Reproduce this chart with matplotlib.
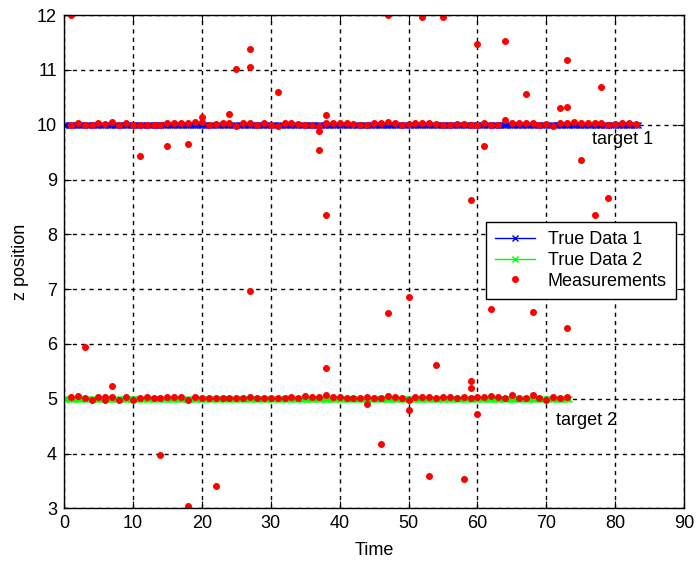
import numpy as np
import matplotlib
matplotlib.use("Agg")
import matplotlib.pyplot as plt

plt.rcParams['font.family'] = ['Liberation Sans', 'DejaVu Sans']

# true target positions (constant tracks)
true_z1 = 10.0
true_z2 = 5.0
true_end1 = 83.5
true_end2 = 73.5

# measurements close to target 1, t = 1..83
near_z1 = [10.00, 10.03, 10.00, 10.00, 10.03, 10.01, 10.05, 10.00, 10.03, 10.00,
           10.00, 10.00, 10.00, 10.00, 10.03, 10.03, 10.03, 10.03, 10.06, 10.05,
           10.00, 10.01, 10.03, 10.03, 9.98, 10.03, 10.03, 10.00, 10.03, 10.00,
           9.98, 10.03, 10.03, 10.02, 10.00, 10.00, 9.98, 10.03, 10.03, 10.03,
           10.03, 10.02, 9.99, 10.00, 10.03, 10.03, 10.06, 10.03, 10.00, 10.02,
           10.03, 10.03, 10.03, 10.02, 10.00, 10.00, 10.02, 10.02, 10.00, 10.00,
           10.03, 10.00, 10.00, 10.09, 10.03, 10.03, 10.03, 10.03, 10.00, 10.02,
           9.98, 10.03, 10.03, 10.06, 10.03, 10.03, 10.03, 10.03, 9.99, 10.02,
           10.03, 10.03, 10.02]

# measurements close to target 2, t = 1..73
near_z2 = [5.04, 5.06, 5.01, 4.98, 5.04, 5.03, 5.04, 4.98, 5.04, 4.98,
           5.01, 5.04, 5.01, 5.01, 5.04, 5.04, 5.04, 4.98, 5.04, 5.01,
           5.01, 5.01, 5.01, 5.01, 5.01, 5.01, 5.04, 5.01, 5.01, 5.01,
           5.01, 5.01, 5.04, 5.01, 5.06, 5.04, 5.04, 5.07, 5.03, 5.03,
           5.01, 5.01, 5.01, 5.03, 5.01, 5.01, 5.05, 5.04, 5.01, 4.98,
           5.03, 5.04, 5.04, 5.02, 5.04, 5.04, 5.01, 5.04, 5.01, 5.04,
           5.04, 5.05, 5.04, 5.01, 5.07, 5.02, 5.01, 5.07, 5.02, 4.97,
           5.04, 5.02, 5.04]

# clutter / outlying measurements
clutter_t = [1, 11, 15, 18, 20, 24, 25, 27, 27, 31, 37, 37, 38, 38, 47, 52, 55, 60,
             64, 73, 67, 78, 72, 73, 61, 75, 59, 79, 77,
             27, 3, 7, 38, 14, 46, 44, 47, 50, 62, 68, 73, 54, 59, 59, 50, 60,
             18, 22, 53, 58, 6]
clutter_z = [12.0, 9.43, 9.61, 9.65, 10.15, 10.19, 11.01, 11.38, 11.06, 10.59, 9.88, 9.54,
             10.17, 8.35, 12.0, 11.96, 11.96, 11.48, 11.53, 11.19, 10.56, 10.69, 10.30,
             10.32, 9.61, 9.35, 8.62, 8.67, 8.36,
             6.97, 5.95, 5.24, 5.56, 3.98, 4.17, 4.90, 6.56, 6.85, 6.63, 6.58, 6.29,
             5.61, 5.32, 5.19, 4.79, 4.72, 3.04, 3.40, 3.59, 3.54, 4.98]

x_ticks = list(range(0, 91, 10))
y_ticks = list(range(3, 13))

t1 = np.arange(0, true_end1 + 0.01, 1 / 3)
t2 = np.arange(0, true_end2 + 0.01, 1 / 3)
meas_t = np.concatenate([np.arange(1, len(near_z1) + 1), np.arange(1, len(near_z2) + 1), clutter_t])
meas_z = np.concatenate([near_z1, near_z2, clutter_z])

fig = plt.figure(figsize=(6.96, 5.63), dpi=100)
ax = fig.add_axes([0.092, 0.097, 0.891, 0.876])

ax.plot(t1, np.full(len(t1), true_z1), color='#0000ff', lw=1.0, marker='x', ms=4, mew=1.0,
        label='True Data 1')
ax.plot(t2, np.full(len(t2), true_z2), color='#00ff00', lw=1.0, marker='x', ms=4, mew=1.0,
        label='True Data 2')
ax.plot(meas_t, meas_z, ls='none', marker='o', ms=4.0, color='#ff0000', mec='#ff0000',
        label='Measurements')

ax.text(76.6, 9.73, 'target 1', fontsize=13, va='center', ha='left')
ax.text(71.4, 4.6, 'target 2', fontsize=13, va='center', ha='left')

ax.set_xlim(0, 90)
ax.set_ylim(3, 12)
ax.set_xticks(x_ticks)
ax.set_yticks(y_ticks)
ax.grid(True, color='black', ls=(0, (3, 3)), lw=1.0)
ax.tick_params(direction='in', top=True, right=True, length=5, labelsize=13, pad=5)
for s in ax.spines.values():
    s.set_linewidth(1.0)

ax.set_xlabel('Time', fontsize=13, labelpad=7)
ax.set_ylabel('z position', fontsize=13, labelpad=6)

leg = ax.legend(loc='upper left', bbox_to_anchor=(0.681, 0.581), fontsize=13,
                fancybox=False, framealpha=1, edgecolor='black', borderpad=0.5,
                labelspacing=0.22, handlelength=2.2, handletextpad=0.7, borderaxespad=0)
leg.get_frame().set_linewidth(1.0)

fig.savefig('out.png', dpi=100)
